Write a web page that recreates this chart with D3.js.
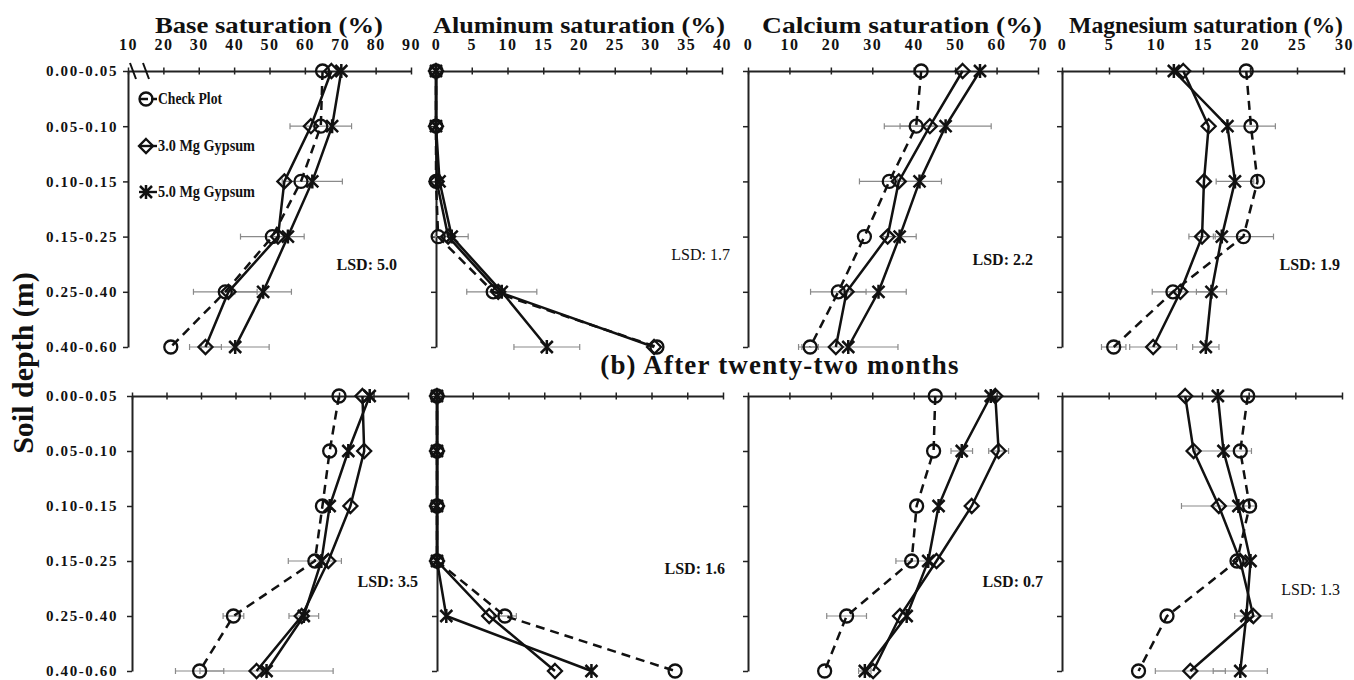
<!DOCTYPE html>
<html><head><meta charset="utf-8">
<script src="https://cdn.jsdelivr.net/npm/d3@7"></script>
<style>
body{margin:0;background:#fff}
text{font-family:"Liberation Serif","Times New Roman",serif;font-weight:bold;fill:#111}
</style>
</head><body>
<svg id="chart" width="1354" height="680"></svg>
<script>
// ---------- data ----------
const depths = ["0.00-0.05","0.05-0.10","0.10-0.15","0.15-0.25","0.25-0.40","0.40-0.60"];
const panelTitles = ["Base saturation (%)","Aluminum saturation (%)","Calcium saturation (%)","Magnesium saturation (%)"];
const baseTicks = [10,20,30,40,50,60,70,80,90];
const alTicks = [0,5,10,15,20,25,30,35,40];
const caTicks = [0,10,20,30,40,50,60,70];
const mgTicks = [0,5,10,15,20,25,30];
const seriesNames = ["Check Plot","3.0 Mg  Gypsum","5.0 Mg  Gypsum"];
const rowTitle = "(b) After twenty-two months";
const yTitle = "Soil depth (m)";
const lsdTop = ["LSD: 5.0","LSD: 1.7","LSD: 2.2","LSD: 1.9"];
const lsdBottom = ["LSD: 3.5","LSD: 1.6","LSD: 0.7","LSD: 1.3"];

// top row (values) : check, 3.0 Mg, 5.0 Mg
const baseCheckTop = [65.0,64.5,58.9,50.8,37.5,22.1];
const baseG3Top    = [67.5,61.7,54.2,52.4,38.4,31.9];
const baseG5Top    = [70.3,67.7,62.1,55.2,48.2,40.3];
const alCheckTop = [0,0,0,0.3,8.0,30.9];
const alG3Top    = [0,0,0.1,1.7,8.7,30.5];
const alG5Top    = [0,0,0.5,2.2,9.2,15.5];
const caCheckTop = [41.8,40.6,34.1,28.1,21.8,15.0];
const caG3Top    = [51.8,43.9,36.4,33.7,23.8,21.2];
const caG5Top    = [56.0,47.7,41.4,36.6,31.5,24.2];
const mgCheckTop = [19.6,20.1,20.8,19.3,11.8,5.5];
const mgG3Top    = [12.9,15.6,15.1,14.9,12.6,9.7];
const mgG5Top    = [11.9,17.6,18.4,17.0,15.9,15.3];

// bottom row (after twenty-two months)
const baseCheckBot = [70.0,67.3,65.2,63.0,39.4,29.6];
const baseG3Bot    = [76.8,77.3,73.3,66.9,59.2,46.1];
const baseG5Bot    = [78.9,72.7,67.3,64.9,59.8,49.0];
const alCheckBot = [0,0,0,0,9.5,33.3];
const alG3Bot    = [0,0,0,0,7.3,16.5];
const alG5Bot    = [0,0,0,0,1.3,21.6];
const caCheckBot = [45.2,44.8,40.7,39.5,23.8,18.5];
const caG3Bot    = [59.7,60.5,54.0,45.5,36.7,30.2];
const caG5Bot    = [58.6,51.6,46.0,43.5,38.3,28.2];
const mgCheckBot = [19.9,19.1,20.1,18.75,11.25,8.2];
const mgG3Bot    = [13.2,14.1,16.8,19.1,20.5,13.75];
const mgG5Bot    = [16.7,17.3,18.9,20.2,19.75,19.1];

// error bar half widths
const baseErrTop = [[0,8.7,0,9,9,0],[0,0,0,0,0,4.5],[0,0,8.5,0,8,9.6]];
const alErrTop   = [[0,0,0,0,0,0],[0,0,0,0,0,0],[0,0,0,2.3,4.9,4.6]];
const caErrTop   = [[0,7.7,7.2,0,6.7,2],[0,0,0,0,0,0],[0,11,5.3,4,6.7,12]];
const mgErrTop   = [[0,2.6,0,3.2,0,1.3],[0,0,0,1.4,3,2.5],[0,0,2,0,1.6,1.4]];
const baseErrBot = [[0,0,0,7.7,3,7],[0,0,0,0,0,0],[0,0,0,0,4.3,19.3]];
const alErrBot   = [[0,0,0,0,1.6,0],[0,0,0,0,0,0],[0,0,0,0,0,0]];
const caErrBot   = [[0,0,0,3.8,4.8,0],[0,2.4,0,0,0,0],[0,2.6,0,0,0,1.5]];
const mgErrBot   = [[0,0,0,0,0,0],[0,0,4,0,2,3.75],[0,3,0,0,0,2.9]];

// ---------- layout ----------
const svg = d3.select("#chart");
const panelRanges = [
  [[128,411],[436,722],[748,1038],[1062,1344]],
  [[132,408],[437,723],[748,1038],[1062,1342]]
];
const rowRanges = [[71,347],[396,671]];
const lsdPos = [
  [[-14,270],[8,260],[-5,265],[-4,270]],
  [[10,587],[2,574],[5,587],[-2,595]]
];
const lsdBold = [[true,false,true,true],[true,true,true,false]];
const titleCx = [269,579,902,1206];
const titleW = [228,292,280,274];

const ticksList = [baseTicks, alTicks, caTicks, mgTicks];
const rows = [
  {vals:[[baseCheckTop,baseG3Top,baseG5Top],[alCheckTop,alG3Top,alG5Top],[caCheckTop,caG3Top,caG5Top],[mgCheckTop,mgG3Top,mgG5Top]],
   errs:[baseErrTop,alErrTop,caErrTop,mgErrTop], lsd:lsdTop},
  {vals:[[baseCheckBot,baseG3Bot,baseG5Bot],[alCheckBot,alG3Bot,alG5Bot],[caCheckBot,caG3Bot,caG5Bot],[mgCheckBot,mgG3Bot,mgG5Bot]],
   errs:[baseErrBot,alErrBot,caErrBot,mgErrBot], lsd:lsdBottom}
];

function drawMarker(g, type, cx, cy){
  if(type===0){
    g.append("circle").attr("cx",cx).attr("cy",cy).attr("r",6.5)
     .attr("fill","none").attr("stroke","#111").attr("stroke-width",2.3);
  } else if(type===1){
    const s=7;
    g.append("path").attr("d",`M${cx},${cy-s}L${cx+s},${cy}L${cx},${cy+s}L${cx-s},${cy}Z`)
     .attr("fill","none").attr("stroke","#111").attr("stroke-width",2.3);
  } else {
    const s=6;
    g.append("path").attr("d",`M${cx-s},${cy-s}L${cx+s},${cy+s}M${cx-s},${cy+s}L${cx+s},${cy-s}M${cx},${cy-s-1}L${cx},${cy+s+1}`)
     .attr("fill","none").attr("stroke","#111").attr("stroke-width",2.5);
  }
}

rows.forEach((row, r) => {
  ticksList.forEach((tks, p) => {
    const x = d3.scaleLinear().domain([tks[0], tks[tks.length-1]]).range(panelRanges[r][p]);
    const y = d3.scalePoint().domain(depths).range(rowRanges[r]);
    const g = svg.append("g");
    const y0 = y(depths[0]);

    // top axis
    const ax = g.append("g").attr("transform",`translate(0,${y0})`)
      .call(d3.axisTop(x).tickValues(tks).tickSizeInner(4).tickSizeOuter(0).tickPadding(17)
        .tickFormat(r===0 ? d3.format("d") : ""));
    ax.select(".domain").attr("stroke","#222").attr("stroke-width",2);
    ax.selectAll(".tick line").attr("y1",-3.5).attr("y2",3.5).attr("stroke","#222").attr("stroke-width",1.5);
    ax.selectAll(".tick text").attr("font-size",16).attr("letter-spacing","1.5px")
      .style("font-family",'"Liberation Serif",serif').style("font-weight","bold").attr("fill","#111");

    // left axis
    const xL = panelRanges[r][p][0];
    const ay = g.append("g").attr("transform",`translate(${xL},0)`)
      .call(d3.axisLeft(y).tickSizeInner(5).tickSizeOuter(0).tickPadding(xL-118-5)
        .tickFormat(p===0 ? (d=>d) : ""));
    ay.select(".domain").attr("stroke","#222").attr("stroke-width",2);
    ay.selectAll(".tick line").attr("stroke","#222").attr("stroke-width",1.5);
    ay.selectAll(".tick text").attr("font-size",15).attr("letter-spacing","1.6px")
      .style("font-family",'"Liberation Serif",serif').style("font-weight","bold").attr("fill","#111");

    // title
    if(r===0){
      g.append("text").attr("x",titleCx[p]).attr("y",33)
        .attr("text-anchor","middle").attr("font-size",24)
        .attr("textLength",titleW[p]).attr("lengthAdjust","spacingAndGlyphs").text(panelTitles[p]);
    }

    // error bars
    row.errs[p].forEach((ser, sIdx) => {
      ser.forEach((e, i) => {
        if(!e) return;
        const v = row.vals[p][sIdx][i];
        const yy = y(depths[i]);
        const eg = g.append("g").attr("stroke","#8a8a8a").attr("stroke-width",1.2);
        eg.append("line").attr("x1",x(v-e)).attr("x2",x(v+e)).attr("y1",yy).attr("y2",yy);
        eg.append("line").attr("x1",x(v-e)).attr("x2",x(v-e)).attr("y1",yy-3).attr("y2",yy+3);
        eg.append("line").attr("x1",x(v+e)).attr("x2",x(v+e)).attr("y1",yy-3).attr("y2",yy+3);
      });
    });

    // lines
    const line = d3.line().x(d=>x(d.v)).y(d=>y(d.d));
    row.vals[p].forEach((vals, s) => {
      const data = vals.map((v,i)=>({v, d:depths[i]}));
      g.append("path").datum(data).attr("d",line).attr("fill","none")
        .attr("stroke","#111").attr("stroke-width",2.5)
        .attr("stroke-dasharray", s===0 ? "9,6" : null);
    });
    // markers
    row.vals[p].forEach((vals, s) => {
      vals.forEach((v,i)=> drawMarker(g, s, x(v), y(depths[i])));
    });

    // LSD
    const xr = panelRanges[r][p];
    g.append("text").attr("x",xr[1]+lsdPos[r][p][0]).attr("y",lsdPos[r][p][1])
      .attr("text-anchor","end").attr("font-size",16)
      .style("font-weight", lsdBold[r][p] ? "bold" : "normal")
      .text(row.lsd[p]);

    // axis break & legend in first panel, top row
    if(r===0 && p===0){
      g.append("path").attr("d",`M${xL+2},${y0-8}L${xL+8},${y0+8}M${xL+15},${y0-8}L${xL+21},${y0+8}`)
        .attr("stroke","#111").attr("stroke-width",2).attr("fill","none");
      const legY = [99,146,192];
      const legW = [64,97,97];
      seriesNames.forEach((nm, s) => {
        const lg = svg.append("g");
        lg.append("line").attr("x1",139).attr("x2",157).attr("y1",legY[s]).attr("y2",legY[s])
          .attr("stroke","#111").attr("stroke-width",2.4).attr("stroke-dasharray", s===0 ? "9,3" : null);
        drawMarker(lg, s, 146, legY[s]);
        lg.append("text").attr("x",158).attr("y",legY[s]+5).attr("font-size",17)
          .attr("textLength",legW[s]).attr("lengthAdjust","spacingAndGlyphs").text(nm);
      });
    }
  });
});

// row title and y title
svg.append("text").attr("x",780).attr("y",374).attr("text-anchor","middle")
  .attr("font-size",27).attr("letter-spacing","1.2px").text(rowTitle);
svg.append("text").attr("transform","translate(33,363) rotate(-90)").attr("text-anchor","middle")
  .attr("font-size",30).text(yTitle);
</script>
</body></html>
